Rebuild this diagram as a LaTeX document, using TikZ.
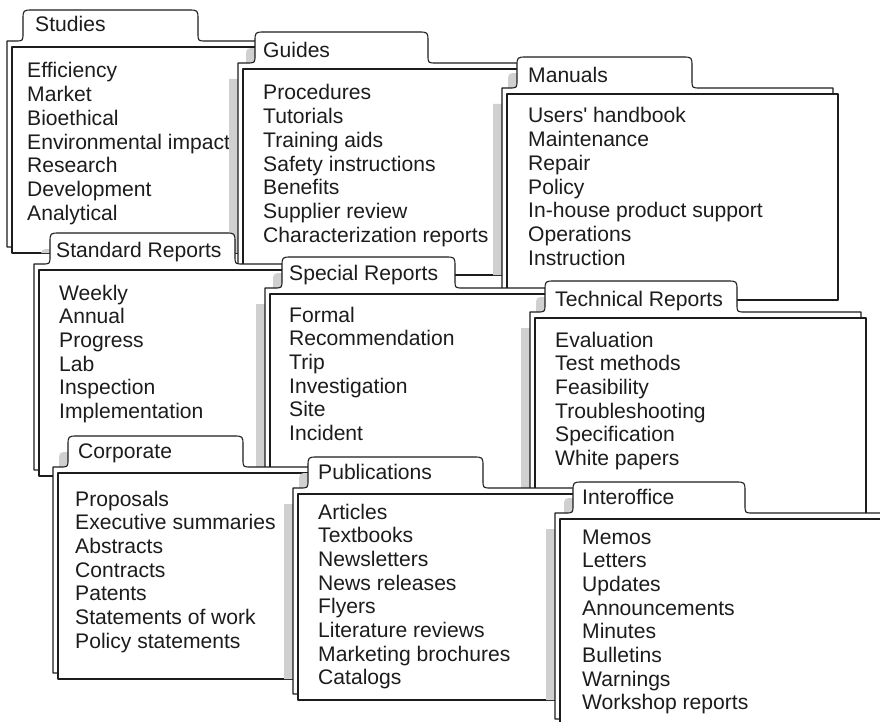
\documentclass[tikz,border=0pt]{standalone}
\usepackage{fontspec}
\setmainfont{Liberation Sans}
\definecolor{shadowgrey}{RGB}{208,208,208}
\definecolor{ink}{RGB}{28,28,28}
% back sheet with tab: bx by tx tw
\newcommand\fback[4]{({#1},{#2}) -- ({#3-8},{#2}) .. controls ({#3},{#2}) .. ({#3},{#2-8}) -- ({#3},{#2-21}) .. controls ({#3},{#2-31}) .. ({#3+10},{#2-31}) -- ({#3+#4-10},{#2-31}) .. controls ({#3+#4},{#2-31}) .. ({#3+#4},{#2-21}) -- ({#3+#4},{#2-8}) .. controls ({#3+#4},{#2}) .. ({#3+#4+8},{#2}) -- ({#1+331},{#2}) -- ({#1+331},{#2+206}) -- ({#1},{#2+206}) -- cycle }
% front sheet: bx by
\newcommand\ffront[2]{({#1+5},{#2+6}) -- ({#1+336},{#2+6}) -- ({#1+336},{#2+212}) -- ({#1+5},{#2+212}) -- cycle }
\newcommand\fshape[4]{\fback{#1}{#2}{#3}{#4}\ffront{#1}{#2}}
\def\prevs{}
\newcommand\addprev[4]{\expandafter\gdef\expandafter\prevs\expandafter{\prevs\fshape{#1}{#2}{#3}{#4}}}
\newcommand\folderbody[4]{%
  \ifx\prevs\empty\else
  \begin{scope}
    \clip \prevs;
    \fill[shadowgrey, shift={(-9,16)}] \fshape{#1}{#2}{#3}{#4};
  \end{scope}\fi
  \filldraw[sheet] \fback{#1}{#2}{#3}{#4};
  \filldraw[sheet] \ffront{#1}{#2};
  \addprev{#1}{#2}{#3}{#4}}
\newcommand\itemlist[4]{\foreach \t [count=\i] in {#4} {\node[item] (#1-\i) at (#2,{#3+(\i-1)*23.7}) {\t};}}
\tikzset{
  sheet/.style={fill=white, draw=ink, line width=1.1pt, line join=round},
  item/.style={anchor=base west, inner sep=0pt, text=ink, font=\fontsize{21.1}{23.7}\selectfont},
  tablabel/.style={item}
}
\begin{document}
\begin{tikzpicture}[x=1pt,y=-1pt]
\useasboundingbox (0,0) rectangle (880,722);
\clip (0,0) rectangle (880,722);
% Row 1
\folderbody{7}{41}{23}{175}
\node[tablabel] (studies) at (35,32) {Studies};
\itemlist{studies}{27}{78}{Efficiency, Market, Bioethical, Environmental impact, Research, Development, Analytical}
\folderbody{238}{63}{255}{173}
\node[tablabel] (guides) at (263,58) {Guides};
\itemlist{guides}{263}{100}{Procedures, Tutorials, Training aids, Safety instructions, Benefits, Supplier review, Characterization reports}
\folderbody{502}{88}{517}{175}
\node[tablabel] (manuals) at (528,83) {Manuals};
\itemlist{manuals}{528}{123}{Users\textquotesingle\ handbook, Maintenance, Repair, Policy, In-house product support, Operations, Instruction}
% Row 2
\folderbody{34}{264}{50}{185}
\node[tablabel] (standard) at (56,257) {Standard Reports};
\itemlist{standard}{59}{300}{Weekly, Annual, Progress, Lab, Inspection, Implementation}
\folderbody{265}{288}{282}{173}
\node[tablabel] (special) at (289,280) {Special Reports};
\itemlist{special}{289}{322}{Formal, Recommendation, Trip, Investigation, Site, Incident}
\folderbody{530}{312}{545}{192}
\node[tablabel] (technical) at (555,306) {Technical Reports};
\itemlist{technical}{555}{347}{Evaluation, Test methods, Feasibility, Troubleshooting, Specification, White papers}
% Row 3
\folderbody{53}{467}{68}{175}
\node[tablabel] (corporate) at (78,458) {Corporate};
\itemlist{corporate}{75}{506}{Proposals, Executive summaries, Abstracts, Contracts, Patents, Statements of work, Policy statements}
\folderbody{293}{488}{308}{175}
\node[tablabel] (publications) at (318,479) {Publications};
\itemlist{publications}{318}{519}{Articles, Textbooks, Newsletters, News releases, Flyers, Literature reviews, Marketing brochures, Catalogs}
\folderbody{555}{513}{573}{172}
\node[tablabel] (interoffice) at (582,504) {Interoffice};
\itemlist{interoffice}{582}{544}{Memos, Letters, Updates, Announcements, Minutes, Bulletins, Warnings, Workshop reports}
\end{tikzpicture}
\end{document}
